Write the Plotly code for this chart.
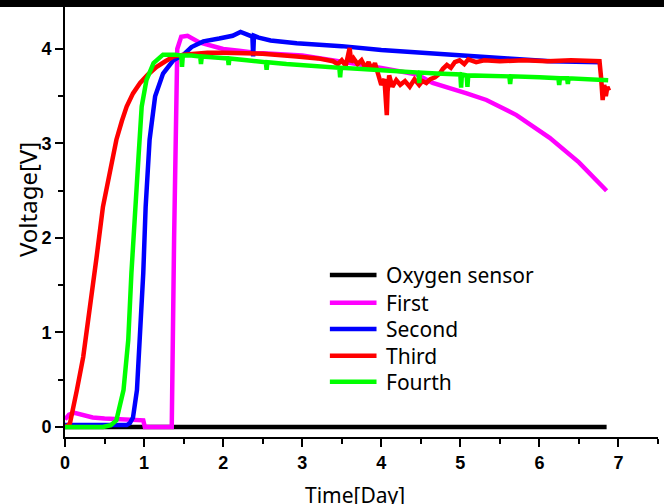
import plotly.graph_objects as go

# ---- series data (time in days, voltage in V) ----
series_names = ["Oxygen sensor", "First", "Second", "Third", "Fourth"]
series_colors = ["#000000", "#ff00ff", "#0000ff", "#ff0000", "#00ff00"]

oxygen_x = [0.0, 6.85]
oxygen_y = [0.0, 0.0]

first_x = [0.0, 0.05, 0.12, 0.18, 0.25, 0.35, 0.5, 0.8, 0.99, 1.01, 1.2, 1.35, 1.38,
           1.42, 1.47, 1.55, 1.7, 2.0, 2.2, 2.4, 3.0, 3.5, 4.0, 4.45, 4.65, 5.08,
           5.33, 5.71, 6.13, 6.5, 6.85]
first_y = [0.08, 0.13, 0.15, 0.14, 0.12, 0.1, 0.09, 0.08, 0.07, 0.0, 0.0, 0.0, 2.0,
           4.0, 4.13, 4.14, 4.07, 4.0, 3.98, 3.96, 3.93, 3.87, 3.8, 3.73, 3.64, 3.53,
           3.46, 3.30, 3.06, 2.8, 2.5]

second_x = [0.0, 0.4, 0.78, 0.82, 0.86, 0.91, 0.95, 0.99, 1.02, 1.07, 1.14, 1.24,
            1.37, 1.5, 1.6, 1.75, 1.95, 2.12, 2.22, 2.34, 2.37, 2.38, 2.39, 2.45,
            2.6, 2.93, 3.5, 4.0, 4.5, 5.07, 5.6, 6.14, 6.78]
second_y = [0.02, 0.02, 0.02, 0.04, 0.1, 0.39, 0.92, 1.63, 2.33, 3.04, 3.5, 3.74,
            3.88, 3.94, 4.02, 4.08, 4.11, 4.14, 4.18, 4.14, 4.13, 3.92, 4.14, 4.12,
            4.09, 4.06, 4.03, 3.99, 3.96, 3.92, 3.9, 3.87, 3.86]

third_x = [0.0, 0.03, 0.063, 0.1, 0.15, 0.23, 0.32, 0.40, 0.48, 0.57, 0.65, 0.72,
           0.78, 0.86, 0.95, 1.05, 1.16, 1.27, 1.37, 1.5, 1.65, 1.8, 2.0,
           2.5, 2.93, 3.2, 3.39, 3.45, 3.5, 3.55, 3.6, 3.62,
           3.65, 3.7, 3.75, 3.8, 3.84, 3.88, 3.92, 3.96, 4.0, 4.04, 4.07, 4.08, 4.1,
           4.14, 4.19, 4.24, 4.3, 4.36, 4.42, 4.48, 4.52, 4.57, 4.62, 4.68, 4.74,
           4.78, 4.83, 4.88, 4.93, 4.99, 5.05, 5.1, 5.2, 5.3, 5.5, 5.8, 6.1, 6.4,
           6.76, 6.78, 6.8, 6.82, 6.84, 6.86, 6.88]
third_y = [0.0, 0.01, 0.04, 0.17, 0.39, 0.74, 1.27, 1.80, 2.33, 2.68, 3.04, 3.24,
           3.39, 3.53, 3.64, 3.73, 3.81, 3.87, 3.92, 3.94, 3.95, 3.96, 3.96,
           3.95, 3.92, 3.9, 3.87, 3.84, 3.88, 3.82, 4.01, 3.86,
           3.9, 3.84, 3.88, 3.8, 3.86, 3.78, 3.85, 3.72, 3.62, 3.68, 3.3, 3.55, 3.72,
           3.6, 3.67, 3.62, 3.66, 3.6, 3.68, 3.62, 3.66, 3.64, 3.68, 3.7, 3.74,
           3.79, 3.83, 3.8, 3.86, 3.88, 3.84, 3.89, 3.86, 3.88, 3.87, 3.88, 3.87, 3.88,
           3.87, 3.7, 3.46, 3.62, 3.5, 3.6, 3.56]

fourth_x = [0.0, 0.3, 0.48, 0.58, 0.65, 0.74, 0.80, 0.84, 0.885, 0.93, 0.97,
            1.03, 1.12, 1.24, 1.4, 1.47, 1.48, 1.49, 1.6, 1.71, 1.72,
            1.73, 1.9, 2.06, 2.07, 2.08, 2.3, 2.54, 2.55, 2.56, 2.8, 3.0, 3.2, 3.47,
            3.48, 3.49, 3.7, 4.0, 4.3, 4.47, 4.48, 4.49, 4.7, 5.0, 5.01, 5.02, 5.08,
            5.09, 5.1, 5.3, 5.62, 5.63, 5.64, 6.0, 6.24, 6.25, 6.26, 6.35, 6.36, 6.37,
            6.6, 6.87]
fourth_y = [0.0, 0.0, 0.0, 0.02, 0.07, 0.39, 0.92, 1.63, 2.33, 2.86, 3.39,
            3.67, 3.85, 3.94, 3.94, 3.93, 3.81, 3.93, 3.93, 3.92, 3.84,
            3.92, 3.91, 3.9, 3.83, 3.9, 3.88, 3.86, 3.78, 3.86, 3.84, 3.83, 3.81, 3.8,
            3.7, 3.8, 3.79, 3.77, 3.76, 3.75, 3.64, 3.75, 3.74, 3.73, 3.59, 3.73, 3.72,
            3.6, 3.72, 3.72, 3.71, 3.63, 3.71, 3.7, 3.69, 3.62, 3.69, 3.69, 3.63, 3.69,
            3.68, 3.67]

x_ticks = [0, 1, 2, 3, 4, 5, 6, 7]
y_ticks = [0, 1, 2, 3, 4]

series_x = [oxygen_x, first_x, second_x, third_x, fourth_x]
series_y = [oxygen_y, first_y, second_y, third_y, fourth_y]

fig = go.Figure()
for name, color, xs, ys in zip(series_names, series_colors, series_x, series_y):
    fig.add_trace(go.Scatter(x=xs, y=ys, mode="lines", name=name,
                             line=dict(color=color, width=4.5),
                             showlegend=False))

tick_font = dict(family="Liberation Sans, Arial, sans-serif", size=18, color="black")
legend_font = dict(family="Noto Sans, sans-serif", size=21, color="black")

axis_common = dict(
    showline=True, linecolor="black", linewidth=2,
    ticks="outside", ticklen=8, tickwidth=2, tickcolor="black",
    showgrid=False, zeroline=False, tickfont=tick_font,
    minor=dict(ticks="outside", ticklen=5, tickwidth=2, tickcolor="black", dtick=0.5),
)

fig.update_xaxes(range=[0, 7.5], tickmode="array", tickvals=x_ticks,
                 ticktext=[f"<b>{v}</b>" for v in x_ticks], **axis_common)
fig.update_yaxes(range=[-0.106, 4.444], tickmode="array", tickvals=y_ticks,
                 ticktext=[f"<b>{v}</b>" for v in y_ticks], **axis_common)

# legend drawn as line samples with labels
legend_rows_y = [1.608, 1.315, 1.037, 0.754, 0.479]
for name, color, ly in zip(series_names, series_colors, legend_rows_y):
    fig.add_shape(type="line", xref="x", yref="y", x0=3.35, x1=3.94, y0=ly, y1=ly,
                  line=dict(color=color, width=4.5))
    fig.add_annotation(x=4.045, y=ly, xref="x", yref="y", text=name,
                       showarrow=False, xanchor="left", yanchor="middle",
                       font=legend_font, borderpad=0)

# axis titles
fig.add_annotation(x=0.489, y=-0.1, xref="paper", yref="paper", text="Time[Day]",
                   showarrow=False, xanchor="center", yanchor="top",
                   font=dict(family="Noto Sans, sans-serif", size=21, color="black"),
                   borderpad=0)
fig.add_annotation(x=-0.064, y=0.551, xref="paper", yref="paper", text="Voltage[V]",
                   textangle=-90, showarrow=False, xanchor="center", yanchor="middle",
                   font=dict(family="Noto Sans, sans-serif", size=24, color="black"),
                   borderpad=0)

# black strip along the top edge
fig.add_shape(type="rect", xref="paper", yref="paper", x0=-0.2, x1=1.2,
              y0=1.0, y1=1.05, fillcolor="black", line=dict(width=0), layer="above")

fig.update_layout(
    width=664, height=504,
    margin=dict(l=65, r=6, t=7, b=67),
    plot_bgcolor="white", paper_bgcolor="white",
)

fig.write_html("out.html")
